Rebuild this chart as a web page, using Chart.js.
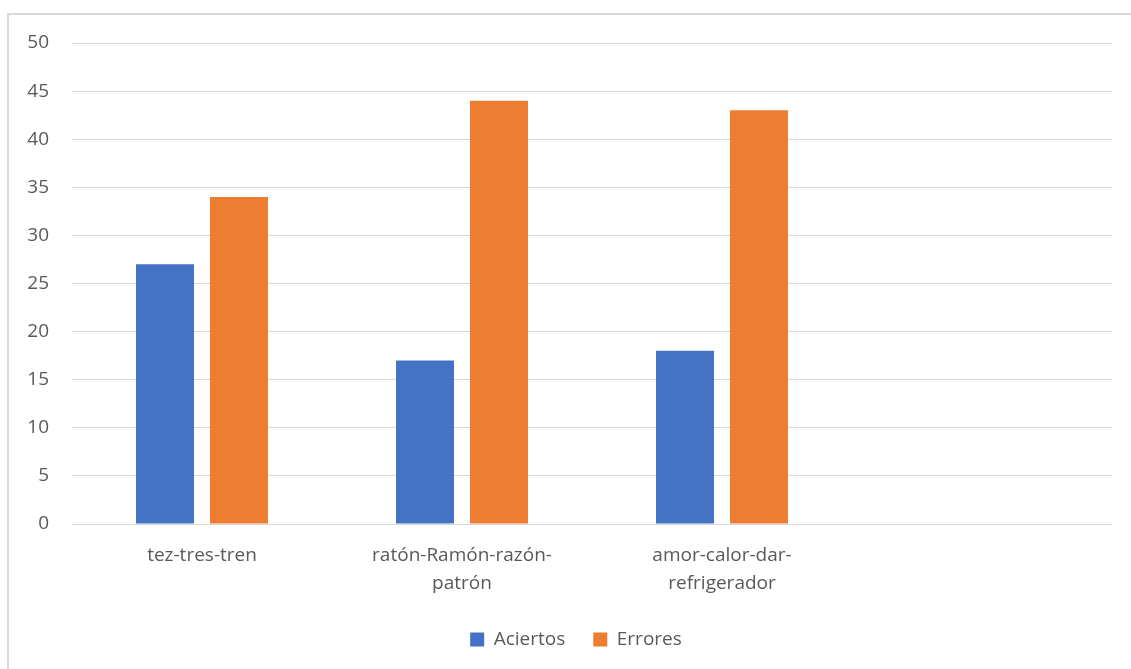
<!DOCTYPE html>
<html>
<head>
<meta charset="utf-8">
<script src="https://cdn.jsdelivr.net/npm/chart.js@4/dist/chart.umd.min.js"></script>
<style>
  html, body { margin: 0; padding: 0; background: #ffffff; overflow: hidden; }
  #wrap { position: absolute; left: 0; top: 0; width: 1131px; height: 700px; }
</style>
</head>
<body>
<div id="wrap"><canvas id="c" width="1131" height="700"></canvas></div>
<script>
const categories = ['tez-tres-tren', ['ratón-Ramón-razón-', 'patrón'], ['amor-calor-dar-', 'refrigerador'], ''];
const aciertos = [27, 17, 18, null];
const errores = [34, 44, 43, null];
const yTicks = [0, 5, 10, 15, 20, 25, 30, 35, 40, 45, 50];

const FONT = 'Open Sans';
const TEXT = '#595959';

const borderPlugin = {
  id: 'outerBorder',
  beforeDraw(chart) {
    const ctx = chart.ctx;
    ctx.save();
    ctx.fillStyle = '#d9d9d9';
    ctx.fillRect(7, 13, 2, chart.height);
    ctx.fillRect(7, 13, chart.width, 2);
    ctx.restore();
  }
};

const legendShift = {
  id: 'legendShift',
  afterLayout(chart) {
    if (chart.legend) { chart.legend.left += 20; chart.legend.right += 20; }
  }
};

new Chart(document.getElementById('c'), {
  type: 'bar',
  data: {
    labels: categories,
    datasets: [
      { label: 'Aciertos', data: aciertos, backgroundColor: '#4472C4' },
      { label: 'Errores', data: errores, backgroundColor: '#ED7D31' }
    ]
  },
  options: {
    responsive: false,
    animation: false,
    categoryPercentage: 0.569,
    barPercentage: 0.784,
    layout: { padding: { top: 43, right: 19, left: 0, bottom: 41 } },
    plugins: {
      tooltip: { enabled: false },
      legend: {
        position: 'bottom',
        labels: {
          boxWidth: 14, boxHeight: 14, padding: 28,
          color: TEXT,
          font: { family: FONT, size: 19 }
        }
      }
    },
    scales: {
      x: {
        grid: { display: false, drawTicks: false },
        border: { display: false },
        ticks: {
          color: TEXT, padding: 18, maxRotation: 0, autoSkip: false,
          font: { family: FONT, size: 19, lineHeight: 1.45 }
        },
        afterFit(scale) { scale.height = 78; }
      },
      y: {
        min: 0, max: 50,
        afterBuildTicks(scale) { scale.ticks = yTicks.map(v => ({ value: v })); },
        grid: { color: '#d9d9d9', lineWidth: 1, drawTicks: false },
        border: { display: false },
        ticks: { color: TEXT, padding: 23, font: { family: FONT, size: 19 } },
        afterFit(scale) { scale.width = 72; }
      }
    }
  },
  plugins: [borderPlugin, legendShift]
});
</script>
</body>
</html>
